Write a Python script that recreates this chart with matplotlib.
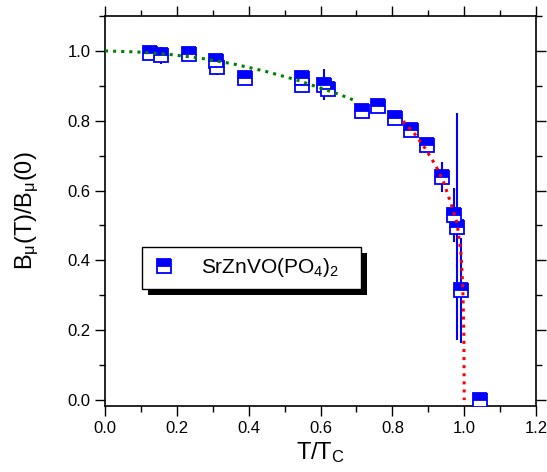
import numpy as np
import matplotlib
matplotlib.use('Agg')
import matplotlib.pyplot as plt
from matplotlib.patches import Rectangle
from matplotlib.ticker import MultipleLocator

plt.rcParams['font.family'] = ['Liberation Sans', 'DejaVu Sans']
plt.rcParams['mathtext.fontset'] = 'custom'
plt.rcParams['mathtext.rm'] = 'Liberation Sans'
plt.rcParams['mathtext.it'] = 'Liberation Sans'

# muSR data
t_red = [0.125, 0.156, 0.235, 0.309, 0.313, 0.389, 0.549, 0.547, 0.609, 0.622,
         0.715, 0.760, 0.806, 0.851, 0.895, 0.937, 0.972, 0.981, 0.990, 1.045]
b_red = [0.995, 0.987, 0.990, 0.972, 0.954, 0.923, 0.922, 0.903, 0.903, 0.892,
         0.828, 0.843, 0.809, 0.774, 0.731, 0.639, 0.530, 0.497, 0.314, 0.0]
b_err = [0.020, 0.025, 0.020, 0.020, 0.022, 0.018, 0.018, 0.018, 0.045, 0.018,
         0.018, 0.018, 0.015, 0.018, 0.015, 0.043, 0.077, 0.325, 0.150, 0.0]

# low-T fit (green) and critical fit (red)
t_low = [0.0, 0.09, 0.179, 0.267, 0.356, 0.445, 0.533, 0.622, 0.651, 0.690]
b_low = [1.0, 0.997, 0.990, 0.979, 0.963, 0.942, 0.917, 0.886, 0.876, 0.860]

t_crit = [0.830, 0.864, 0.891, 0.920, 0.943, 0.961, 0.980, 0.991, 0.996, 0.999, 1.0]
b_crit = [0.799, 0.760, 0.721, 0.673, 0.623, 0.569, 0.508, 0.420, 0.325, 0.19, 0.0]

fig = plt.figure(figsize=(5.47, 4.72), dpi=100)
ax = fig.add_axes([0.192, 0.1398, 0.788, 0.8263])

ax.errorbar(t_red, b_red, yerr=b_err, fmt='none', ecolor='#0000ff',
            elinewidth=1.5, capsize=0, zorder=2)
ax.plot(t_red, b_red, 's', ms=9.5, mfc='#0000ff', mfcalt='white',
        fillstyle='top', mec='#0000ff', mew=1.3, zorder=3,
        label='SrZnVO(PO$_4$)$_2$   ')

ax.plot(t_low, b_low, ':', color='#008000', lw=2.2, zorder=4)
ax.plot(t_crit, b_crit, ':', color='#ff0000', lw=2.2, zorder=4)

ax.set_xlim(0, 1.2)
ax.set_ylim(-0.017, 1.1)
ax.xaxis.set_major_locator(MultipleLocator(0.2))
ax.xaxis.set_minor_locator(MultipleLocator(0.1))
ax.yaxis.set_minor_locator(MultipleLocator(0.1))
ax.set_yticks([0.0, 0.2, 0.4, 0.6, 0.8, 1.0])
ax.tick_params(which='both', direction='out', top=True, right=True,
               width=1.0, labelsize=12)
ax.tick_params(which='major', length=7)
ax.tick_params(which='minor', length=4)
for s in ax.spines.values():
    s.set_linewidth(1.2)

ax.set_xlabel('T/T$_C$', fontsize=17, labelpad=3)
ax.set_ylabel('B$_\\mu$(T)/B$_\\mu$(0)', fontsize=17, labelpad=19)

leg = ax.legend(loc='upper left', bbox_to_anchor=(0.085, 0.408),
                fontsize=15, frameon=True, fancybox=False, framealpha=1,
                edgecolor='black', handlelength=1.2, handletextpad=1.2,
                borderpad=0.45, borderaxespad=0)
leg.get_frame().set_linewidth(1.0)
leg.set_zorder(10)

# solid black drop shadow behind the legend box
fig.canvas.draw()
bb = leg.get_window_extent().transformed(fig.transFigure.inverted())
dx, dy = 6 / 547, 6 / 472
fig.patches.append(Rectangle((bb.x0 + dx, bb.y0 - dy), bb.width, bb.height,
                             transform=fig.transFigure, facecolor='black',
                             edgecolor='none', zorder=1))
leg.remove()
fig.legends.append(leg)
leg.set_figure(fig)

fig.savefig('out.png', dpi=100)
